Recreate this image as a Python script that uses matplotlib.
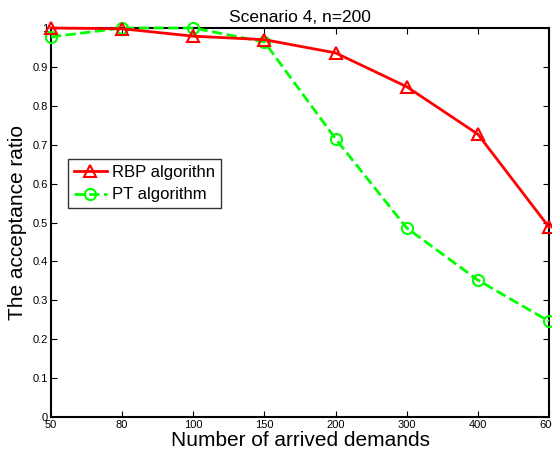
import numpy as np
import matplotlib
matplotlib.use('Agg')
import matplotlib.pyplot as plt

# данные
demands = ['50', '80', '100', '150', '200', '300', '400', '600']
rbp = [1.0, 0.998, 0.979, 0.970, 0.936, 0.849, 0.727, 0.488]
pt = [0.977, 1.0, 1.0, 0.964, 0.715, 0.486, 0.352, 0.246]

plt.rcParams['font.family'] = ['Liberation Sans', 'DejaVu Sans']

fig = plt.figure(figsize=(5.52, 4.59), dpi=100)
ax = fig.add_axes([0.0924, 0.0915, 0.9022, 0.8475])

x = np.arange(len(demands))
ax.plot(x, rbp, '-', color='red', lw=2, marker='^', ms=9, mfc='none', mew=1.5,
        label='RBP algorithn', clip_on=False, zorder=4)
ax.plot(x, pt, '--', color='#00ff00', lw=2, marker='o', ms=8, mfc='none', mew=1.5,
        label='PT algorithm', clip_on=False, zorder=3)

ax.set_xlim(0, len(demands) - 1)
ax.set_ylim(0, 1)
ax.set_xticks(x)
ax.set_xticklabels(demands)
ax.set_yticks(np.arange(0, 1.01, 0.1))
ax.set_yticklabels(['0', '0.1', '0.2', '0.3', '0.4', '0.5', '0.6', '0.7', '0.8', '0.9', '1'])
ax.tick_params(direction='in', top=True, right=True, labelsize=8, length=4, pad=2)
for s in ax.spines.values():
    s.set_linewidth(1.5)

ax.set_xlabel('Number of arrived demands', fontsize=15, labelpad=1)
ax.set_ylabel('The acceptance ratio', fontsize=15, labelpad=4)
ax.set_title('Scenario 4, n=200', fontsize=12.5, pad=4)

leg = ax.legend(loc='upper left', bbox_to_anchor=(0.034, 0.663), fontsize=12,
                frameon=True, fancybox=False, edgecolor='black', borderpad=0.35,
                handlelength=2.0, labelspacing=0.45, handletextpad=0.3, borderaxespad=0)
leg.get_frame().set_linewidth(1)

fig.savefig('out.png', dpi=100)
